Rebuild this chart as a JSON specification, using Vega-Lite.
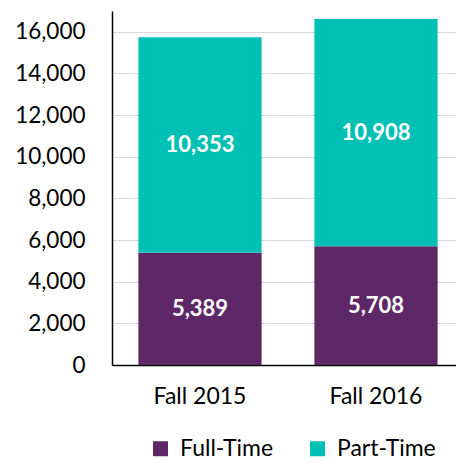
{
  "$schema": "https://vega.github.io/schema/vega-lite/v6.json",
  "width": 352,
  "height": 354,
  "autosize": "none",
  "padding": {"left": 112, "top": 11, "right": 0, "bottom": 97},
  "background": "white",
  "config": {
    "font": "Lato",
    "view": {"stroke": null}
  },
  "data": {
    "values": [
      {"term": "Fall 2015", "status": "Full-Time", "order": 1, "count": 5389},
      {"term": "Fall 2015", "status": "Part-Time", "order": 2, "count": 10353},
      {"term": "Fall 2016", "status": "Full-Time", "order": 1, "count": 5708},
      {"term": "Fall 2016", "status": "Part-Time", "order": 2, "count": 10908}
    ]
  },
  "encoding": {
    "x": {
      "field": "term",
      "type": "nominal",
      "title": null,
      "scale": {"paddingInner": 0.3, "paddingOuter": 0.15},
      "axis": {
        "labelAngle": 0,
        "labelFontSize": 23,
        "labelColor": "#000000",
        "labelPadding": 20,
        "ticks": false,
        "domainColor": "#000000",
        "domainWidth": 1.5
      }
    },
    "y": {
      "field": "count",
      "type": "quantitative",
      "stack": "zero",
      "title": null,
      "scale": {"domain": [0, 17000], "nice": false},
      "axis": {
        "values": [0, 2000, 4000, 6000, 8000, 10000, 12000, 14000, 16000],
        "format": ",.0f",
        "labelFontSize": 22.5,
        "labelColor": "#000000",
        "labelPadding": 27,
        "ticks": false,
        "domainColor": "#000000",
        "domainWidth": 1.5,
        "gridColor": "#D9D9D9",
        "gridWidth": 1.2
      }
    },
    "order": {"field": "order", "type": "quantitative"}
  },
  "layer": [
    {
      "mark": {"type": "bar"},
      "encoding": {
        "color": {
          "field": "status",
          "type": "nominal",
          "title": null,
          "scale": {"domain": ["Full-Time", "Part-Time"], "range": ["#5E2768", "#00BFB4"]},
          "legend": {
            "orient": "none",
            "legendX": 37,
            "legendY": 426,
            "direction": "horizontal",
            "symbolType": "square",
            "symbolSize": 225,
            "symbolStrokeWidth": 0,
            "labelFontSize": 23,
            "labelColor": "#000000",
            "columnPadding": 32,
            "labelOffset": 8
          }
        }
      }
    },
    {
      "mark": {"type": "text", "color": "white", "fontSize": 22, "fontWeight": "bold", "baseline": "middle"},
      "encoding": {
        "y": {"field": "count", "type": "quantitative", "stack": "zero", "bandPosition": 0.5},
        "text": {"field": "count", "type": "quantitative", "format": ","}
      }
    }
  ]
}
